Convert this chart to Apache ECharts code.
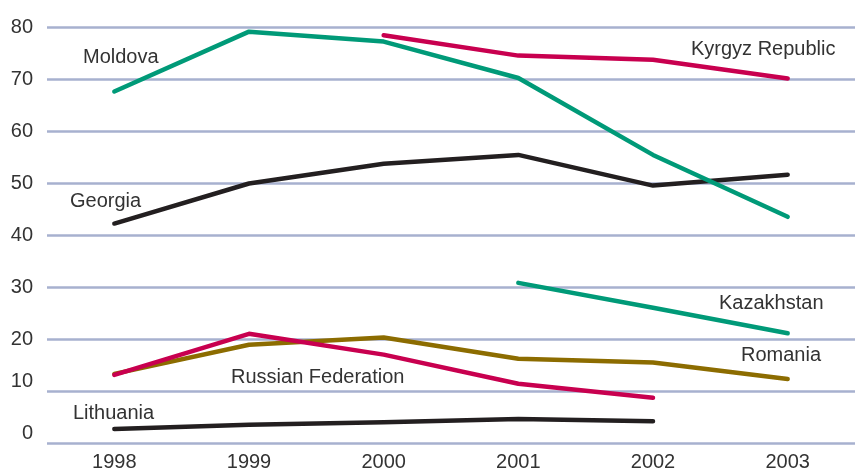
<!DOCTYPE html>
<html>
<head>
<meta charset="utf-8">
<script src="https://cdn.jsdelivr.net/npm/echarts@6/dist/echarts.min.js"></script>
<style>
  html, body { margin: 0; padding: 0; background: #fff; }
  #chart { width: 855px; height: 472px; }
</style>
</head>
<body>
<div id="chart"></div>
<script>
var years = ['1998', '1999', '2000', '2001', '2002', '2003'];
var yTicks = [0, 10, 20, 30, 40, 50, 60, 70, 80];

var moldova    = [67.6, 79.1, 77.2, 70.2, 55.4, 43.5];
var kyrgyz     = [null, null, 78.4, 74.5, 73.7, 70.1];
var georgia    = [42.2, 49.9, 53.7, 55.4, 49.5, 51.6];
var kazakhstan = [null, null, null, 30.8, 26.0, 21.1];
var romania    = [13.3, 18.9, 20.3, 16.2, 15.5, 12.3];
var russia     = [13.1, 21.0, 17.0, 11.4, 8.7, null];
var lithuania  = [2.7, 3.5, 4.0, 4.6, 4.2, null];

var TEAL = '#009a78';
var RED = '#c8004f';
var BLACK = '#231f20';
var OLIVE = '#8c6c00';
var FONT = '"Liberation Sans", Arial, sans-serif';

function makeLine(name, data, color) {
    return {
        name: name,
        type: 'line',
        data: data,
        symbol: 'none',
        connectNulls: false,
        silent: true,
        lineStyle: { color: color, width: 4.5, cap: 'round', join: 'round' }
    };
}

// series name labels placed beside the lines
function nameText(text, x, y) {
    return {
        type: 'text',
        x: x,
        y: y,
        style: {
            text: text,
            fontSize: 20,
            fontFamily: FONT,
            fill: '#333',
            verticalAlign: 'middle'
        }
    };
}

var myChart = echarts.init(document.getElementById('chart'));

var option = {
    backgroundColor: '#fff',
    animation: false,
    grid: { left: 47, right: 0, top: 27, bottom: 29 },
    xAxis: {
        type: 'category',
        data: years,
        boundaryGap: true,
        axisLine: { show: false },
        axisTick: { show: false },
        axisLabel: { fontSize: 20, fontFamily: FONT, color: '#333', margin: 9 }
    },
    yAxis: {
        type: 'value',
        min: yTicks[0],
        max: yTicks[yTicks.length - 1],
        interval: 10,
        axisLine: { show: false },
        axisTick: { show: false },
        splitLine: { lineStyle: { color: '#a7b1cf', width: 2.5 } },
        axisLabel: {
            fontSize: 20,
            fontFamily: FONT,
            color: '#333',
            margin: 14,
            // the lowest two labels sit a little above their grid lines in the original
            formatter: function (v) {
                return v <= 10 ? '{up|' + v + '}' : String(v);
            },
            rich: {
                up: { fontSize: 20, fontFamily: FONT, color: '#333', padding: [0, 0, 20, 0] }
            }
        }
    },
    graphic: [
        nameText('Moldova', 83, 57),
        nameText('Georgia', 70, 201),
        nameText('Kyrgyz Republic', 691, 49),
        nameText('Kazakhstan', 719, 303),
        nameText('Romania', 741, 355),
        nameText('Russian Federation', 231, 377),
        nameText('Lithuania', 73, 413)
    ],
    series: [
        makeLine('Lithuania', lithuania, BLACK),
        makeLine('Romania', romania, OLIVE),
        makeLine('Russian Federation', russia, RED),
        makeLine('Kazakhstan', kazakhstan, TEAL),
        makeLine('Georgia', georgia, BLACK),
        makeLine('Moldova', moldova, TEAL),
        makeLine('Kyrgyz Republic', kyrgyz, RED)
    ]
};

myChart.setOption(option, true);
</script>
</body>
</html>
